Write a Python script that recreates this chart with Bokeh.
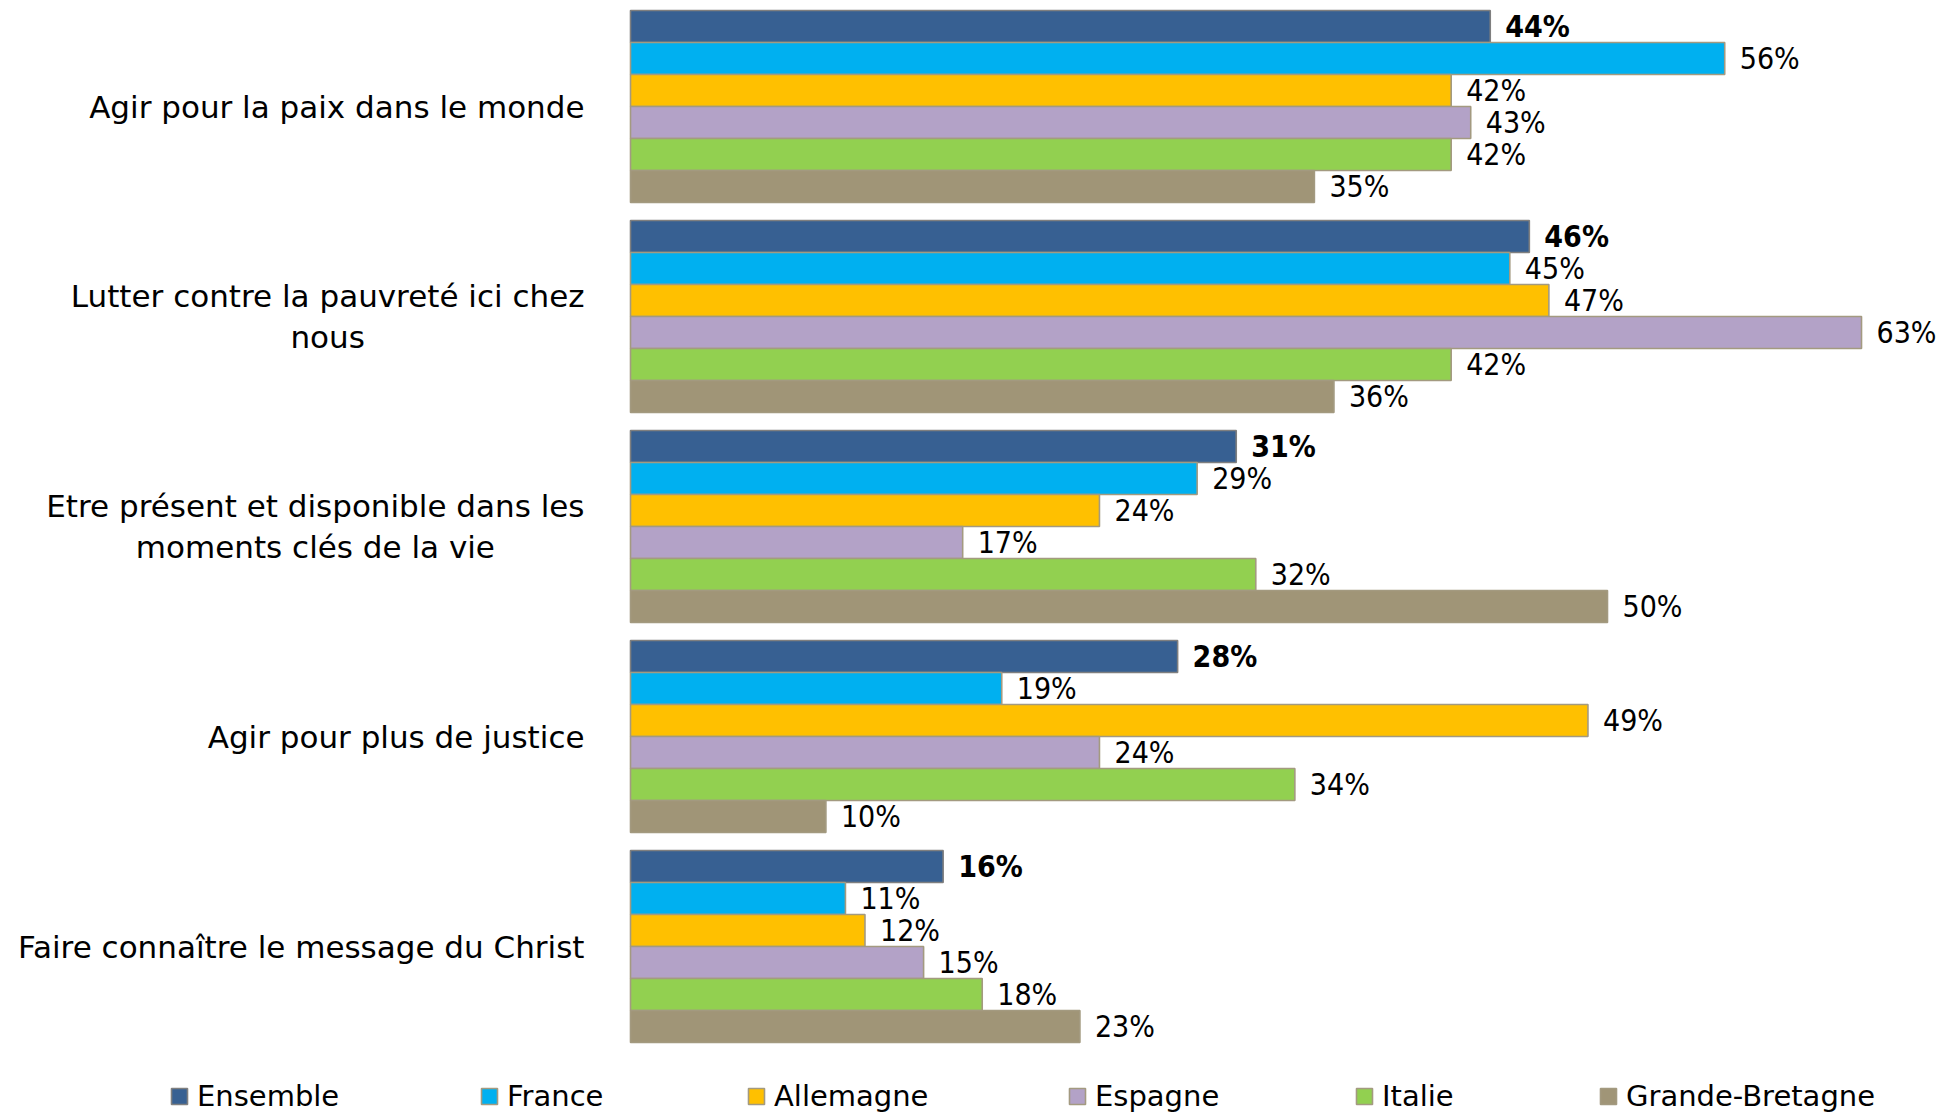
from bokeh.plotting import figure
from bokeh.models import Range1d, Legend, LegendItem
from bokeh.core.properties import value
from bokeh.embed import file_html
from bokeh.resources import INLINE

# ---------------- data ----------------
categories = [
    "Agir pour la paix dans le monde",
    "Lutter contre la pauvreté ici chez\nnous",
    "Etre présent et disponible dans les\nmoments clés de la vie",
    "Agir pour plus de justice",
    "Faire connaître le message du Christ",
]
series_names = ["Ensemble", "France", "Allemagne", "Espagne", "Italie", "Grande-Bretagne"]
ensemble = [44, 46, 31, 28, 16]
france = [56, 45, 29, 19, 11]
allemagne = [42, 47, 24, 49, 12]
espagne = [43, 63, 17, 24, 15]
italie = [42, 42, 32, 34, 18]
grande_bretagne = [35, 36, 50, 10, 23]
series_values = [ensemble, france, allemagne, espagne, italie, grande_bretagne]

# ---------------- styles ----------------
colors = ["#376092", "#00B0F0", "#FFC000", "#B3A2C7", "#92D050", "#A09577"]
outline = ["#7F7F7F", "#A39A80", "#A39A80", "#A39A80", "#A39A80", "#A39A80"]

W, H = 1945, 1118
PX_PER_PCT = 19.54
ORIGIN_PX = 630          # bar origin inside the frame
SLOT_PX = 210            # height of one category slot
BAR_PX = 32
FIRST_CENTER_PX = 106    # centre of first group from frame top

x_start = -ORIGIN_PX / PX_PER_PCT
x_end = x_start + W / PX_PER_PCT
y_top = -FIRST_CENTER_PX / SLOT_PX
y_bottom = y_top + H / SLOT_PX

p = figure(width=W, height=H, output_backend="svg", toolbar_location=None,
           x_range=Range1d(x_start, x_end), y_range=Range1d(y_bottom, y_top),
           x_axis_location=None, y_axis_location=None, min_border=0,
           outline_line_color=None)
p.xgrid.visible = False
p.ygrid.visible = False
p.background_fill_color = "white"
p.border_fill_color = "white"

n = len(series_names)
bar_h = BAR_PX / SLOT_PX
renderers = []
for j in range(n):
    ys = [i + (BAR_PX * j - BAR_PX * (n - 1) / 2) / SLOT_PX for i in range(len(categories))]
    r = p.hbar(y=ys, left=0, right=series_values[j], height=bar_h,
               fill_color=colors[j], line_color=outline[j], line_width=1.6)
    renderers.append(r)
    p.text(x=series_values[j], y=ys, text=[f"{v}%" for v in series_values[j]],
           x_offset=15, text_baseline="middle", text_align="left",
           text_font=value("DejaVu Sans Condensed, DejaVu Sans, sans-serif"),
           text_font_size="30px",
           text_font_style="bold" if j == 0 else "normal", text_color="black")

# category labels
p.text(x=[0] * len(categories), y=list(range(len(categories))), text=categories,
       x_offset=-46, text_align="center", anchor=value("center_right"),
       text_baseline="middle", text_line_height=1.16,
       text_font=value("DejaVu Sans"), text_font_size="31px", text_color="black")

# legend: one entry per legend, placed like the original
legend_x = [169, 479, 746, 1067, 1354, 1598]
for j in range(n):
    leg = Legend(items=[LegendItem(label=series_names[j], renderers=[renderers[j]])],
                 location=(legend_x[j], 5), orientation="horizontal",
                 glyph_width=20, glyph_height=20, label_standoff=8,
                 padding=0, margin=0, spacing=0, border_line_color=None,
                 background_fill_alpha=0,
                 label_text_font="DejaVu Sans", label_text_font_size="29px",
                 label_text_color="black")
    p.add_layout(leg)

open("out.html", "w").write(file_html(p, INLINE))
